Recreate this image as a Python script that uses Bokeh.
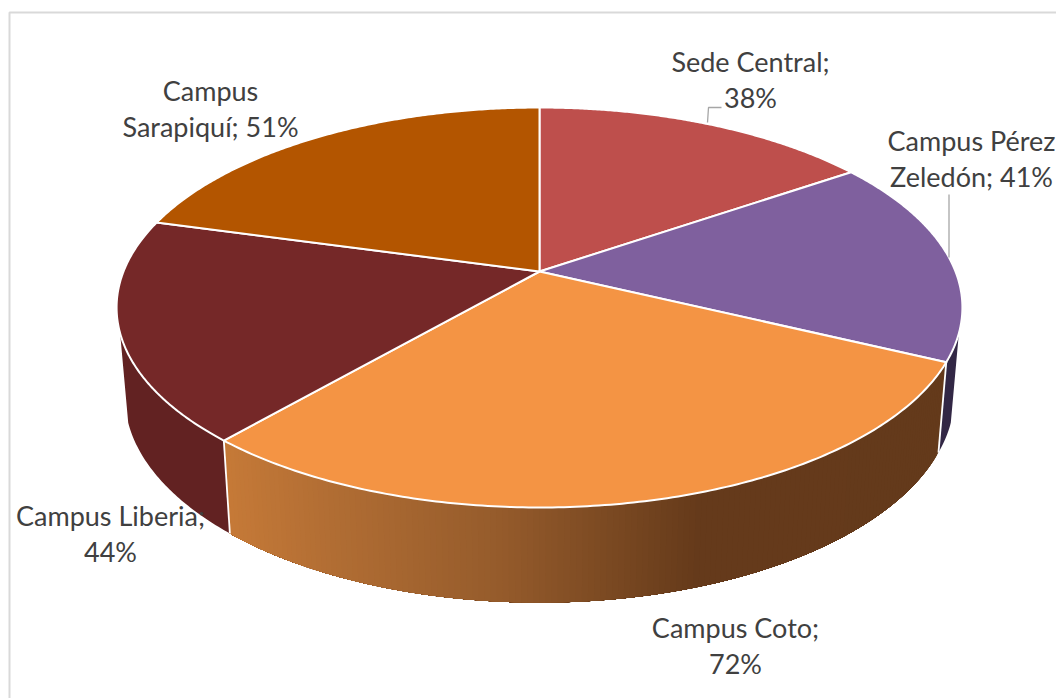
import numpy as np
from bokeh.plotting import figure
from bokeh.models import Range1d
from bokeh.core.properties import value
from bokeh.embed import file_html
from bokeh.resources import INLINE

# Data
categories = ["Sede Central", "Campus Pérez Zeledón", "Campus Coto", "Campus Liberia", "Campus Sarapiquí"]
percent = [38, 41, 72, 44, 51]
top_colors = ["#BE4F4C", "#7F609E", "#F49444", "#752828", "#B35500"]
label_line1 = ["Sede Central;", "Campus Pérez", "Campus Coto;", "Campus Liberia;", "Campus"]
label_line2 = ["38%", "Zeledón; 41%", "72%", "44%", "Sarapiquí; 51%"]

# Layout (page pixels)
LBL_X = [750, 971, 735, 110, 210]
LBL_Y1 = [61, 140, 627, 515, 90]
LINE_GAP = 36
CX = 539.0
TOP = dict(y0=271.0, a=416.0, b=193.5, k=0.18)
BOT = dict(y0=358.5, a=408.0, b=199.7, k=0.18)
VIS_R, VIS_L = 107.6, 252.4


def rim(theta_deg, g):
    t = np.radians(np.asarray(theta_deg, dtype=float))
    X, Y = np.sin(t), np.cos(t)
    w = 1 + g["k"] * Y
    return CX + g["a"] * X / w, g["y0"] - g["b"] * Y / w


p = figure(width=1056, height=698, output_backend="svg", toolbar_location=None,
           x_range=Range1d(0, 1056), y_range=Range1d(698, 0),
           min_border=0, outline_line_color=None, background_fill_color="white",
           border_fill_color="white")
p.axis.visible = False
p.grid.visible = False

# chart border
p.line([9, 9, 1056], [698, 12, 12], line_color="#D9D9D9", line_width=2)

cum = np.concatenate([[0], np.cumsum(percent)]) / sum(percent) * 360.0


def wall_color(x):
    stops_x = [225, 330, 500, 700, 1000]
    r = np.interp(x, stops_x, [198, 178, 150, 102, 100])
    g = np.interp(x, stops_x, [122, 110, 92, 59, 58])
    b = np.interp(x, stops_x, [56, 52, 44, 27, 27])
    return "#%02X%02X%02X" % (int(r), int(g), int(b))


def wall_patch(a0, a1, color):
    ang = np.linspace(a0, a1, 60)
    tx, ty = rim(ang, TOP)
    bx, by = rim(ang[::-1], BOT)
    p.patch(list(tx) + list(bx), list(ty) + list(by), fill_color=color, line_color=None)


# purple and maroon walls are flat
wall_patch(VIS_R, cum[2], "#322745")
wall_patch(cum[3], VIS_L, "#622222")

# orange wall: a shade that follows the screen position, each strip overlapping the last
steps = np.arange(cum[2], cum[3], 0.7)
for s in steps:
    tx, _ = rim(s, TOP)
    wall_patch(s, cum[3], wall_color(float(tx)))

# white seams on the wall
for a in cum[2:4]:
    tx, ty = rim(a, TOP)
    bx, by = rim(a, BOT)
    p.line([tx, bx], [ty, by], line_color="white", line_width=1.8)

# top slices
sx, sy = [], []
for i in range(len(percent)):
    ang = np.linspace(cum[i], cum[i + 1], 160)
    x, y = rim(ang, TOP)
    sx.append([CX] + list(x))
    sy.append([TOP["y0"]] + list(y))
p.patches(sx, sy, fill_color=top_colors, line_color="white", line_width=2,
          line_join="round")

# leader lines
p.line([707, 708, 721], [122, 107, 107], line_color="#A6A6A6", line_width=1.3)
p.line([948.5, 948.5], [194, 257], line_color="#A6A6A6", line_width=1.3)

# labels
font = value("Lato")
p.text(LBL_X, LBL_Y1, text=label_line1, text_font=font, text_font_size="27px",
       text_color="#404040", text_align="center", text_baseline="middle")
p.text(LBL_X, [y + LINE_GAP for y in LBL_Y1], text=label_line2, text_font=font,
       text_font_size="27px", text_color="#404040", text_align="center",
       text_baseline="middle")

open("out.html", "w").write(file_html(p, INLINE))
